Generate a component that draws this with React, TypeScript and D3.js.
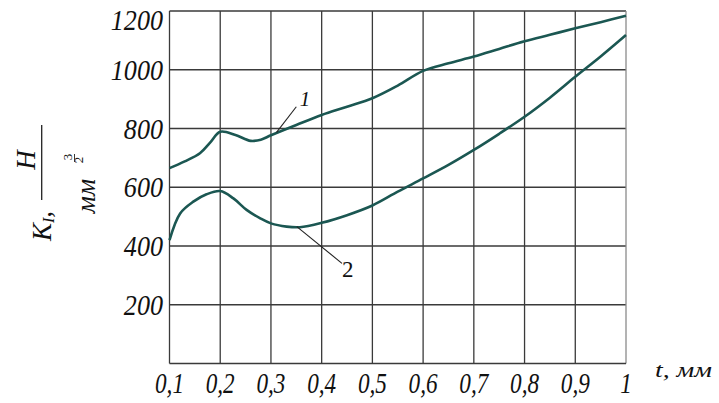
import { useEffect, useRef } from "react";
import * as d3 from "d3";

// curve 1 : K_I vs t
const t1 = [0.1, 0.13, 0.16, 0.18, 0.2, 0.23, 0.26, 0.28, 0.3, 0.35, 0.4, 0.45, 0.5, 0.55, 0.6, 0.65, 0.7, 0.75, 0.8, 0.85, 0.9, 0.95, 1.0];
const k1 = [665, 688, 716, 752, 789, 778, 758, 762, 777, 812, 846, 874, 903, 946, 996, 1022, 1045, 1071, 1097, 1119, 1141, 1162, 1184];

// curve 2
const t2 = [0.1, 0.121, 0.147, 0.173, 0.2, 0.226, 0.252, 0.279, 0.3, 0.331, 0.357, 0.4, 0.45, 0.5, 0.55, 0.6, 0.65, 0.7, 0.75, 0.8, 0.85, 0.9, 0.95, 1.0];
const k2 = [420, 511, 551, 576, 587, 562, 523, 494, 477, 466, 464, 479, 505, 538, 585, 630, 676, 727, 782, 840, 905, 976, 1045, 1118];

const xTicks = [0.1, 0.2, 0.3, 0.4, 0.5, 0.6, 0.7, 0.8, 0.9, 1];
const xTickLabels = ["0,1", "0,2", "0,3", "0,4", "0,5", "0,6", "0,7", "0,8", "0,9", "1"];
const yTicks = [200, 400, 600, 800, 1000, 1200];

// leader lines for curve numbers: [t, K] from, to, text anchor
const leaders = [
  { name: "1", from: [0.311, 787], to: [0.35, 874], at: [0.357, 876], italic: true },
  { name: "2", from: [0.351, 466], to: [0.44, 341], at: [0.44, 295], italic: false },
];

export default function App() {
  const ref = useRef<SVGSVGElement>(null);

  useEffect(() => {
    const width = 719;
    const height = 403;
    const svg = d3.select(ref.current);
    svg.selectAll("*").remove();

    const x = d3.scaleLinear().domain([0.1, 1]).range([169.5, 626]);
    const y = d3.scaleLinear().domain([0, 1200]).range([363.5, 11]);

    const font = "'Liberation Serif', 'Times New Roman', serif";
    const gridColor = "#3a3a3a";
    const curveColor = "#1b5752";

    svg.append("rect").attr("width", width).attr("height", height).attr("fill", "#fff");

    // grid
    svg.append("g")
      .selectAll("line")
      .data(yTicks)
      .join("line")
      .attr("x1", x(0.1)).attr("x2", x(1))
      .attr("y1", d => y(d)).attr("y2", d => y(d))
      .attr("stroke", gridColor).attr("stroke-width", 1.3);

    svg.append("g")
      .selectAll("line")
      .data(xTicks)
      .join("line")
      .attr("x1", d => x(d)).attr("x2", d => x(d))
      .attr("y1", y(0)).attr("y2", y(1200))
      .attr("stroke", (d, i) => (i === xTicks.length - 1 ? "#8a8a8a" : gridColor))
      .attr("stroke-width", 1.3);

    // bottom axis line
    svg.append("line")
      .attr("x1", x(0.1)).attr("x2", x(1))
      .attr("y1", y(0)).attr("y2", y(0))
      .attr("stroke", gridColor).attr("stroke-width", 1.4);

    // y tick labels
    svg.append("g")
      .selectAll("text")
      .data(yTicks)
      .join("text")
      .attr("transform", d => `translate(163,${(d === 1200 ? y(d) + 19 : y(d) + 10)}) scale(0.9,1)`)
      .attr("text-anchor", "end")
      .attr("font-family", font)
      .attr("font-style", "italic")
      .attr("font-size", 29)
      .attr("fill", "#111")
      .text(d => d);

    // x tick labels
    svg.append("g")
      .selectAll("text")
      .data(xTicks)
      .join("text")
      .attr("transform", d => `translate(${x(d)},393) scale(0.8,1)`)
      .attr("text-anchor", "middle")
      .attr("font-family", font)
      .attr("font-style", "italic")
      .attr("font-size", 29)
      .attr("fill", "#111")
      .text((d, i) => xTickLabels[i]);

    // x axis title
    svg.append("text")
      .attr("x", 655).attr("y", 377)
      .attr("font-family", font)
      .attr("font-style", "italic")
      .attr("font-size", 22)
      .attr("textLength", 57)
      .attr("lengthAdjust", "spacingAndGlyphs")
      .attr("fill", "#111")
      .text("t, мм");

    // y axis title (rotated)
    const rot = (g: any, cx: number, cy: number, txt: string, size: number, italic = true) =>
      g.append("text")
        .attr("transform", `translate(${cx},${cy}) rotate(-90)`)
        .attr("text-anchor", "middle")
        .attr("font-family", font)
        .attr("font-style", italic ? "italic" : "normal")
        .attr("font-size", size)
        .attr("fill", "#111")
        .text(txt);

    const yt = svg.append("g");
    const k = yt.append("text")
      .attr("transform", `translate(51,226) rotate(-90)`)
      .attr("text-anchor", "middle")
      .attr("font-family", font)
      .attr("font-style", "italic")
      .attr("font-size", 27)
      .attr("fill", "#111");
    k.append("tspan").text("K");
    k.append("tspan").attr("font-size", 16).attr("dy", 3).text("I");
    k.append("tspan").attr("dy", -3).text(",");

    rot(yt, 35, 160, "H", 27);
    yt.append("line")
      .attr("x1", 41.7).attr("x2", 41.7)
      .attr("y1", 125).attr("y2", 200)
      .attr("stroke", "#222").attr("stroke-width", 1.3);
    rot(yt, 95, 196, "мм", 27);
    rot(yt, 72, 157, "3", 13, false);
    yt.append("line")
      .attr("x1", 74.5).attr("x2", 74.5)
      .attr("y1", 154).attr("y2", 162)
      .attr("stroke", "#222").attr("stroke-width", 0.9);
    rot(yt, 83, 160, "2", 13, false);

    // curves
    const curve = d3.line<[number, number]>()
      .x(d => x(d[0]))
      .y(d => y(d[1]))
      .curve(d3.curveCatmullRom.alpha(0.5));

    [[t1, k1], [t2, k2]].forEach(([ts, ks]) => {
      svg.append("path")
        .datum(ts.map((t, i) => [t, ks[i]] as [number, number]))
        .attr("fill", "none")
        .attr("stroke", curveColor)
        .attr("stroke-width", 2.6)
        .attr("stroke-linejoin", "round")
        .attr("d", curve);
    });

    // leaders
    leaders.forEach(l => {
      svg.append("line")
        .attr("x1", x(l.from[0])).attr("y1", y(l.from[1]))
        .attr("x2", x(l.to[0])).attr("y2", y(l.to[1]))
        .attr("stroke", "#222").attr("stroke-width", 1.1);
      svg.append("text")
        .attr("x", x(l.at[0])).attr("y", y(l.at[1]))
        .attr("font-family", font)
        .attr("font-style", l.italic ? "italic" : "normal")
        .attr("font-size", l.italic ? 21 : 23)
        .attr("fill", "#111")
        .text(l.name);
    });
  }, []);

  return (
    <svg
      ref={ref}
      width={719}
      height={403}
      style={{ position: "absolute", left: 0, top: 0 }}
    />
  );
}
